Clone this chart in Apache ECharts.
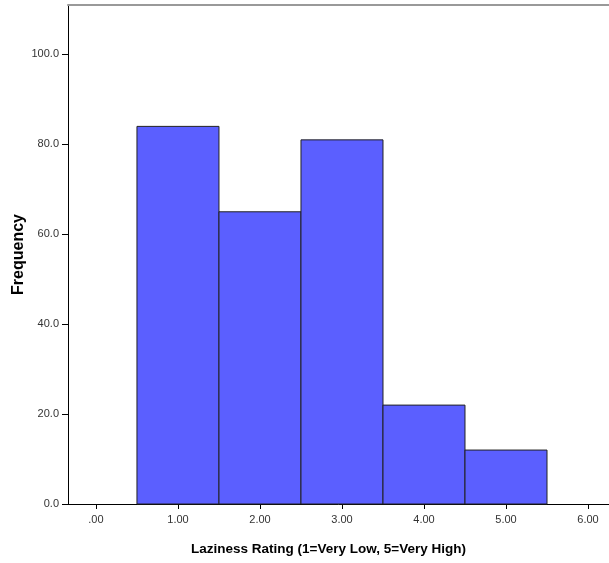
<!DOCTYPE html>
<html>
<head>
<meta charset="utf-8">
<script src="https://cdn.jsdelivr.net/npm/echarts@6/dist/echarts.min.js"></script>
<style>html,body{margin:0;padding:0;background:#fff}#c{width:609px;height:563px}</style>
</head>
<body>
<div id="c"></div>
<script>
var binCenters = [1, 2, 3, 4, 5];
var frequencies = [84, 65, 81, 22, 12];
var xTicks = [0, 1, 2, 3, 4, 5, 6];
var yTicks = [0, 20, 40, 60, 80, 100];
var xTitle = 'Laziness Rating (1=Very Low, 5=Very High)';
var yTitle = 'Frequency';

var data = binCenters.map(function (c, i) { return [c, frequencies[i]]; });
var chart = echarts.init(document.getElementById('c'), null, {renderer: 'canvas'});
var font = '"Liberation Sans", Arial, sans-serif';
chart.setOption({
  animation: false,
  grid: {left: 68, right: 0, top: 5, bottom: 59, outerBoundsMode: 'none', containLabel: false},
  xAxis: [{
    type: 'value', min: -0.341, max: 6.256,
    splitLine: {show: false},
    axisLine: {show: true, onZero: false, lineStyle: {color: '#000', width: 1}},
    axisTick: {show: true, length: 5, customValues: xTicks, lineStyle: {color: '#000'}},
    axisLabel: {customValues: xTicks, margin: 10, color: '#333', fontSize: 11, fontFamily: font,
      formatter: function (v) { var s = v.toFixed(2); return s.charAt(0) === '0' ? s.slice(1) : s; }},
    name: xTitle, nameLocation: 'middle', nameGap: 38, nameMoveOverlap: false,
    nameTextStyle: {fontWeight: 'bold', fontSize: 13.5, color: '#000', fontFamily: font, padding: [0, 20, 0, 0]}
  }, {
    type: 'value', position: 'top', min: -0.341, max: 6.256,
    splitLine: {show: false}, axisTick: {show: false}, axisLabel: {show: false},
    axisLine: {show: true, onZero: false, lineStyle: {color: '#999', width: 2}}
  }],
  yAxis: {
    type: 'value', min: 0, max: 111,
    splitLine: {show: false},
    axisLine: {show: true, onZero: false, lineStyle: {color: '#000', width: 1}},
    axisTick: {show: true, length: 6, customValues: yTicks, lineStyle: {color: '#000'}},
    axisLabel: {customValues: yTicks, margin: 9, color: '#333', fontSize: 11, fontFamily: font,
      formatter: function (v) { return v.toFixed(1); }},
    name: yTitle, nameLocation: 'middle', nameGap: 41, nameMoveOverlap: false,
    nameTextStyle: {fontWeight: 'bold', fontSize: 16, color: '#000', fontFamily: font}
  },
  series: [{
    type: 'custom',
    data: data,
    renderItem: function (params, api) {
      var c = api.value(0), v = api.value(1);
      var p0 = api.coord([c - 0.5, v]);
      var p1 = api.coord([c + 0.5, 0]);
      return {
        type: 'rect',
        shape: {x: p0[0], y: p0[1], width: p1[0] - p0[0], height: p1[1] - p0[1]},
        style: {fill: '#5b5fff', stroke: '#222', lineWidth: 1}
      };
    }
  }]
});
</script>
</body>
</html>
